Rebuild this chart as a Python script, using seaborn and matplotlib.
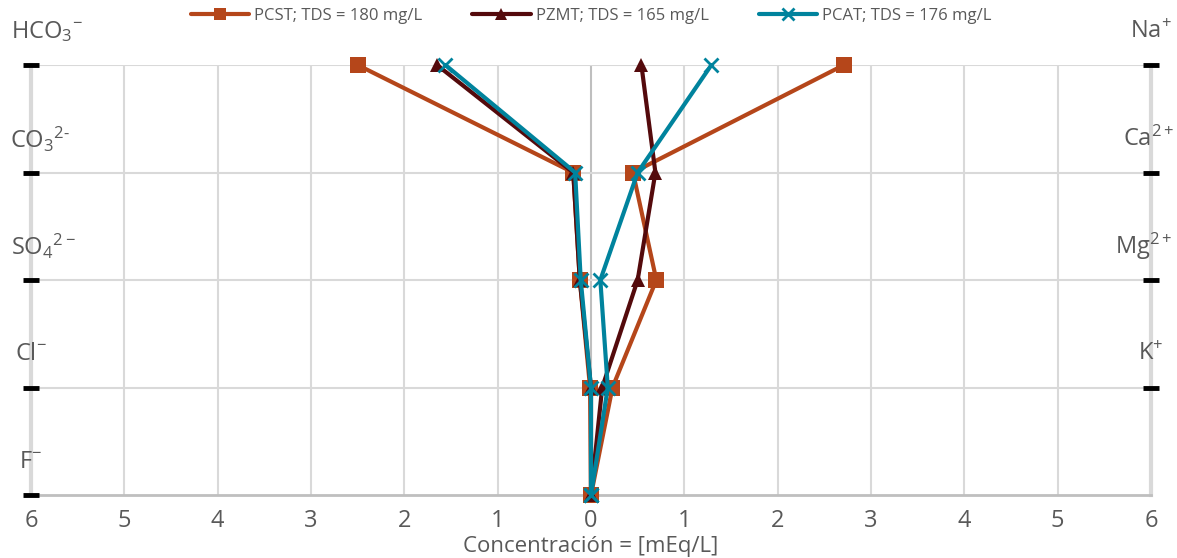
import matplotlib
matplotlib.use("Agg")
import matplotlib.pyplot as plt
import seaborn as sns
import pandas as pd

# Stiff diagram data (mEq/L)
anions = [r'HCO$_3$$^{-}$', r'CO$_3$$^{2\text{-}}$', r'SO$_4$$^{2-}$', r'Cl$^{-}$', r'F$^{-}$']
cations = [r'Na$^{+}$', r'Ca$^{2+}$', r'Mg$^{2+}$', r'K$^{+}$']
series = ['PCST; TDS = 180 mg/L', 'PZMT; TDS = 165 mg/L', 'PCAT; TDS = 176 mg/L']

# anions: HCO3, CO3, SO4, Cl, F
pcst_an = [2.50, 0.19, 0.12, 0.01, 0.0]
pzmt_an = [1.65, 0.19, 0.12, 0.0, 0.0]
pcat_an = [1.56, 0.17, 0.11, 0.0, 0.0]
# cations: Na, Ca, Mg, K (+ bottom row closing at 0)
pcst_cat = [2.71, 0.45, 0.70, 0.23, 0.0]
pzmt_cat = [0.54, 0.69, 0.50, 0.12, 0.0]
pcat_cat = [1.29, 0.50, 0.10, 0.18, 0.0]

colors = ['#B5461A', '#540A0C', '#00839D']
markers = ['s', '^', 'x']
msizes = [11, 10, 10]

rows = [4, 3, 2, 1, 0]

frames = []
for name, an, cat in zip(series, [pcst_an, pzmt_an, pcat_an], [pcst_cat, pzmt_cat, pcat_cat]):
    xs = [-v for v in an] + cat[::-1]
    ys = rows + rows[::-1]
    frames.append(pd.DataFrame({'x': xs, 'y': ys, 'serie': name}))
df = pd.concat(frames)

sns.set_theme(style='white')
plt.rcParams['font.family'] = ['Open Sans', 'DejaVu Sans']
plt.rcParams['mathtext.fontset'] = 'custom'
plt.rcParams['mathtext.rm'] = 'Open Sans'
plt.rcParams['mathtext.it'] = 'Open Sans'
txt = '#595959'
grid = '#d9d9d9'

fig = plt.figure(figsize=(11.77, 5.58), dpi=100)
ax = fig.add_axes([31 / 1177, 1 - 495 / 558, 1120 / 1177, 430 / 558])

for name, c, mk, ms in zip(series, colors, markers, msizes):
    d = df[df['serie'] == name]
    sns.lineplot(data=d, x='x', y='y', sort=False, estimator=None, ax=ax, color=c, lw=3,
                 marker=mk, markersize=ms, markeredgewidth=2 if mk == 'x' else 0,
                 markeredgecolor=c, label=name, clip_on=False, zorder=3)

ax.set_xlim(-6, 6)
ax.set_ylim(0, 4)
ax.set_xticks(range(-6, 7))
ax.set_xticklabels([str(abs(i)) for i in range(-6, 7)], fontsize=17, color=txt)
ax.set_yticks(rows)
ax.set_yticklabels([])
ax.set_axisbelow(False)
ax.tick_params(axis='x', length=0, pad=10)
ax.tick_params(axis='y', direction='inout', length=12, width=3.5, color='black')

for v in range(-5, 6):
    ax.axvline(v, color='#bfbfbf' if v == 0 else grid, lw=1.5, zorder=1)
for r in rows[:-1]:
    ax.axhline(r, color=grid, lw=1.5, zorder=1)

ax.spines['top'].set_visible(False)
for side in ['left', 'right']:
    ax.spines[side].set_color(grid)
    ax.spines[side].set_linewidth(3)
    ax.spines[side].set_zorder(0.4)
ax.spines['bottom'].set_color('#bfbfbf')
ax.spines['bottom'].set_linewidth(2)

ax2 = ax.twinx()
ax2.set_ylim(0, 4)
ax2.set_yticks(rows[:-1])
ax2.set_yticklabels([])
ax2.tick_params(axis='y', direction='inout', length=12, width=3.5, color='black')
for s in ax2.spines.values():
    s.set_visible(False)

ax.set_xlabel('Concentración = [mEq/L]', fontsize=16, color=txt, labelpad=2)
ax.set_ylabel('')

left_x = [-5.83, -5.9, -5.87, -6.0, -6.0]
for lab, r, lx in zip(anions, rows, left_x):
    ax.text(lx, r + 0.31, lab, ha='center', va='center', fontsize=17, color=txt)
right_x = [6.0, 5.97, 5.92, 6.0]
for lab, r, rx in zip(cations, rows, right_x):
    ax.text(rx, r + 0.31, lab, ha='center', va='center', fontsize=17, color=txt)

leg = ax.legend(loc='center', bbox_to_anchor=(0.5, 1 + (65 - 16) / 430), ncol=3, frameon=False,
                fontsize=12, handlelength=3.5, columnspacing=3, handletextpad=0.3,
                markerscale=0.8)
for t in leg.get_texts():
    t.set_color(txt)

fig.savefig('out.png', dpi=100)
